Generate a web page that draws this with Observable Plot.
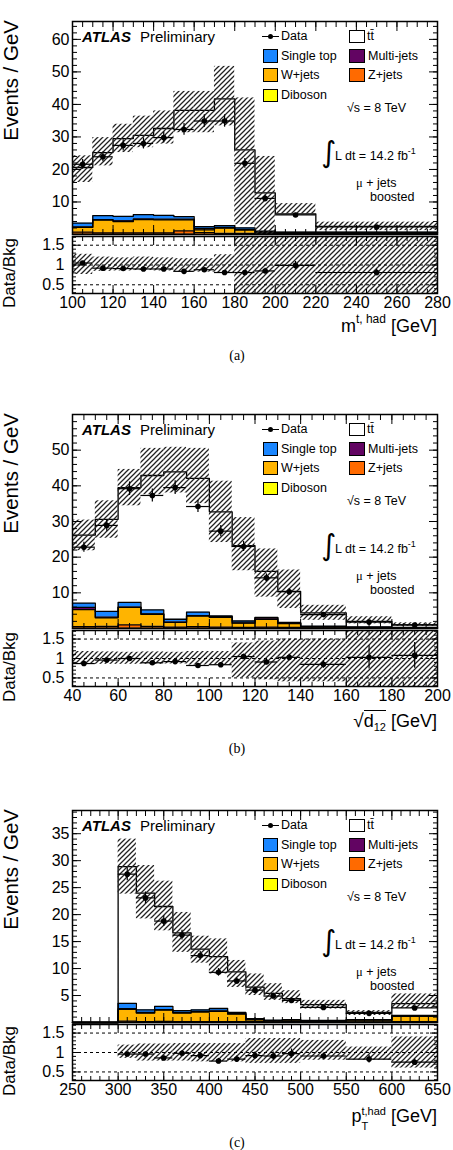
<!DOCTYPE html>
<html>
<head>
<meta charset="utf-8">
<script src="https://cdn.jsdelivr.net/npm/d3@7"></script>
<script src="https://cdn.jsdelivr.net/npm/@observablehq/plot@0.6"></script>
<style>
  html, body { margin: 0; padding: 0; background: #fff; }
  #page { position: relative; width: 453px; height: 1150px; overflow: hidden; background: #fff;
          font-family: "Liberation Sans", Arial, Helvetica, sans-serif; color: #000; }
  .abs { position: absolute; white-space: nowrap; line-height: 1; }
  .plot { position: absolute; left: 0; }
  .swatch { position: absolute; box-sizing: border-box; border: 1px solid #000; }
  .sup { font-size: 12px; line-height: 0; vertical-align: 9px; }
</style>
</head>
<body>
<div id="page"></div>
<svg width="0" height="0" style="position:absolute">
  <defs>
    <pattern id="hatch" patternUnits="userSpaceOnUse" width="5" height="5">
      <path d="M-1,1 L1,-1 M0,5 L5,0 M4,6 L6,4" stroke="#222" stroke-width="1.25"/>
    </pattern>
  </defs>
</svg>
<script>
// ---------- (a) hadronic top mass ----------
const mtopEdges      = [100,110,120,130,140,150,160,170,180,190,200,220,280];
const mtopTtbar      = [17.1,19.4,23.9,24.4,26.7,32.7,35.75,38.95,23.95,11.8,5.6,1.8];
const mtopSingleTop  = [1.2,1.2,1.4,1.3,1.2,0.8,0.6,0.6,0.5,0.15,0.05,0.05];
const mtopMultijet   = [0.1,0.2,0.2,0.2,0.2,0.2,0.4,0.2,0.2,0.3,0.1,0.1];
const mtopWjets      = [1.5,3.9,3.5,4.1,4.0,3.4,0.9,1.6,1.0,0.3,0.3,0.3];
const mtopZjets      = [0.6,0.4,0.4,0.4,0.4,1.0,0.5,0.3,0.3,0.2,0.2,0.2];
const mtopDiboson    = [0.1,0.1,0.1,0.1,0.1,0.1,0.05,0.05,0.05,0.05,0.05,0.05];
const mtopData       = [21.6,23.9,27.4,28.0,29.8,32.3,34.9,34.9,21.9,11.1,6.0,2.3];
const mtopDataErr    = [1.5,1.5,1.7,1.7,1.7,1.8,1.9,1.9,1.5,1.0,0.5,0.2];
const mtopBandLo     = [16.0,21.1,25.2,26.7,27.8,31.3,31.3,33.4,3.0,0.0,6.2,1.2];
const mtopBandHi     = [24.2,29.8,33.9,36.4,38.0,44.0,44.0,51.7,42.0,24.0,9.5,3.8];
const mtopRatio      = [1.05,0.92,0.91,0.90,0.90,0.84,0.88,0.81,0.81,0.85,0.99,0.81];
const mtopRatioErr   = [0.04,0.04,0.04,0.04,0.04,0.04,0.04,0.04,0.05,0.07,0.10,0.08];
const mtopRatioLo    = [0.76,0.84,0.85,0.86,0.85,0.82,0.82,0.80,0.0,0.0,0.0,0.0];
const mtopRatioHi    = [1.27,1.20,1.18,1.20,1.18,1.16,1.16,1.26,2.0,2.0,2.0,2.0];
const mtopTicks      = [100,120,140,160,180,200,220,240,260,280];
const mtopYTicks     = [10,20,30,40,50,60];

// ---------- (b) sqrt(d12) ----------
const d12Edges       = [40,50,60,70,80,90,100,110,120,130,140,160,180,200];
const d12Ttbar       = [19.1,25.8,32.2,37.7,41.3,37.5,29.2,21.1,12.9,8.7,3.75,1.6,0.7];
const d12SingleTop   = [1.2,1.6,1.3,1.1,0.8,1.0,0.2,0.5,0.1,0.2,0.1,0.05,0.05];
const d12Multijet    = [0.6,0.2,0.1,0.1,0.1,0.1,0.2,0.1,0.4,0.1,0.1,0.05,0.05];
const d12Wjets       = [4.8,2.4,4.9,3.4,1.3,3.0,2.7,1.2,2.2,1.1,0.3,0.15,0.1];
const d12Zjets       = [0.4,0.5,0.9,0.5,0.3,0.4,0.3,0.2,0.3,0.2,0.1,0.1,0.05];
const d12Diboson     = [0.1,0.1,0.1,0.1,0.1,0.1,0.1,0.1,0.1,0.1,0.05,0.05,0.05];
const d12Data        = [22.8,28.9,39.2,37.3,39.5,34.2,27.3,23.0,14.2,10.3,3.9,1.8,1.0];
const d12DataErr     = [1.4,1.6,1.9,1.8,1.9,1.7,1.6,1.4,1.1,0.9,0.4,0.3,0.25];
const d12BandLo      = [21.8,25.3,34.4,37.5,38.0,35.0,24.1,16.2,8.8,5.6,2.3,1.3,0.6];
const d12BandHi      = [30.4,35.8,44.6,50.5,50.8,50.5,41.3,31.1,22.3,16.4,6.5,3.3,1.6];
const d12Ratio       = [0.87,0.96,1.00,0.89,0.92,0.82,0.84,1.05,0.91,1.03,0.85,1.03,1.08];
const d12RatioErr    = [0.04,0.04,0.04,0.04,0.04,0.04,0.05,0.06,0.07,0.08,0.10,0.30,0.33];
const d12RatioLo     = [0.85,0.85,0.85,0.85,0.86,0.83,0.82,0.50,0.45,0.40,0.40,0.0,0.0];
const d12RatioHi     = [1.18,1.17,1.16,1.17,1.16,1.18,1.18,1.40,1.45,1.50,1.50,2.0,2.0];
const d12Ticks       = [40,60,80,100,120,140,160,180,200];
const d12YTicks      = [10,20,30,40,50];

// ---------- (c) hadronic top pT ----------
const ptEdges        = [250,300,320,340,360,380,400,420,440,460,480,500,550,600,650];
const ptTtbar        = [0,25.35,21.65,18.5,14.4,11.25,9.6,7.55,5.85,4.97,3.85,2.93,1.3,2.2];
const ptSingleTop    = [0,1.0,0.5,0.6,0.35,0.3,0.45,0.2,0.1,0.08,0.05,0.07,0.05,0.1];
const ptMultijet     = [0,0.1,0.1,0.1,0.1,0.1,0.1,0.1,0.1,0.05,0.05,0.05,0.05,0.05];
const ptWjets        = [0,2.2,1.6,2.1,1.6,1.8,1.9,1.4,0.35,0.2,0.3,0.15,0.35,1.0];
const ptZjets        = [0,0.2,0.1,0.15,0.1,0.1,0.1,0.1,0.1,0.05,0.1,0.05,0.05,0.1];
const ptDiboson      = [0,0.05,0.05,0.05,0.05,0.05,0.05,0.05,0.05,0.05,0.05,0.05,0.05,0.05];
const ptData         = [null,27.5,23.1,18.8,16.2,12.4,9.3,7.7,6.0,4.9,4.1,2.8,1.7,2.7];
const ptDataErr      = [null,1.2,1.1,1.0,0.9,0.8,0.7,0.6,0.55,0.5,0.45,0.25,0.2,0.25];
const ptBandLo       = [null,23.8,19.2,17.0,13.0,11.0,9.0,6.5,5.0,4.1,3.5,2.5,1.3,2.6];
const ptBandHi       = [null,34.0,29.1,26.2,20.4,16.0,15.5,11.5,9.0,7.2,5.9,4.1,2.2,5.3];
const ptRatio        = [null,0.96,0.96,0.86,0.98,0.92,0.78,0.83,0.92,0.91,0.97,0.91,0.83,0.75];
const ptRatioErr     = [null,0.04,0.05,0.05,0.06,0.06,0.07,0.08,0.09,0.10,0.12,0.08,0.10,0.08];
const ptRatioLo      = [null,0.85,0.78,0.78,0.78,0.76,0.76,0.76,0.72,0.72,0.72,0.80,0.80,0.60];
const ptRatioHi      = [null,1.19,1.22,1.22,1.23,1.23,1.23,1.23,1.36,1.36,1.36,1.31,1.14,1.40];
const ptTicks        = [250,300,350,400,450,500,550,600,650];
const ptYTicks       = [5,10,15,20,25,30,35];

// ratio panel
const ratioTicks  = [0.5, 1, 1.5];
const ratioGuides = [0.5, 1, 1.5];

// processes, stacked bottom-up
const PROCS = ["Diboson", "Z+jets", "W+jets", "Multi-jets", "Single top", "ttbar"];
const FILLS = ["#ffff00", "#ff6a00", "#ffb400", "#620462", "#1a86ff", "#ffffff"];

const W = 453, ML = 72, MR = 16;
const FONT = "'Liberation Sans', Arial, Helvetica, sans-serif";
const page = document.getElementById("page");

const panels = [
  {
    top: 21, mainH: 213, ratioTop: 236, ratioH: 57,
    xDomain: [100, 280], yDomain: [0, 65.5],
    edges: mtopEdges,
    layers: [mtopDiboson, mtopZjets, mtopWjets, mtopMultijet, mtopSingleTop, mtopTtbar],
    data: mtopData, dataErr: mtopDataErr, bandLo: mtopBandLo, bandHi: mtopBandHi,
    ratio: mtopRatio, ratioErr: mtopRatioErr, ratioLo: mtopRatioLo, ratioHi: mtopRatioHi,
    xTicks: mtopTicks, xMinor: d3.range(100, 281, 5),
    yTicks: mtopYTicks, yMinor: d3.range(0, 66, 2),
    title: 'm<span class="sup">t, had</span> [GeV]',
    caption: "(a)"
  },
  {
    top: 414, mainH: 214, ratioTop: 630, ratioH: 56,
    xDomain: [40, 200], yDomain: [0, 60],
    edges: d12Edges,
    layers: [d12Diboson, d12Zjets, d12Wjets, d12Multijet, d12SingleTop, d12Ttbar],
    data: d12Data, dataErr: d12DataErr, bandLo: d12BandLo, bandHi: d12BandHi,
    ratio: d12Ratio, ratioErr: d12RatioErr, ratioLo: d12RatioLo, ratioHi: d12RatioHi,
    xTicks: d12Ticks, xMinor: d3.range(40, 201, 5),
    yTicks: d12YTicks, yMinor: d3.range(0, 60, 2),
    title: '<span style="font-size:19px">√</span><span style="display:inline-block;border-top:1.3px solid #000;line-height:1;padding-top:1px">d<span style="font-size:11px;line-height:0;vertical-align:-4px">12</span></span> [GeV]',
    caption: "(b)"
  },
  {
    top: 810, mainH: 212, ratioTop: 1024, ratioH: 56,
    xDomain: [250, 650], yDomain: [0, 39.3],
    edges: ptEdges,
    layers: [ptDiboson, ptZjets, ptWjets, ptMultijet, ptSingleTop, ptTtbar],
    data: ptData, dataErr: ptDataErr, bandLo: ptBandLo, bandHi: ptBandHi,
    ratio: ptRatio, ratioErr: ptRatioErr, ratioLo: ptRatioLo, ratioHi: ptRatioHi,
    xTicks: ptTicks, xMinor: d3.range(250, 651, 10),
    yTicks: ptYTicks, yMinor: d3.range(0, 40, 1),
    title: 'p<span style="display:inline-block;font-size:11px;line-height:15px;vertical-align:-8px;text-align:left">t,had<br>T</span> [GeV]',
    caption: "(c)"
  }
];

// one row per bin edge and process, plus the closing edge, for step-shaped stacks
function stackRows(edges, layers) {
  const rows = [];
  layers.forEach((values, k) => {
    const proc = PROCS[k];
    values.forEach((v, i) => rows.push({proc, x: edges[i], v}));
    rows.push({proc, x: edges[edges.length - 1], v: values[values.length - 1]});
  });
  return rows;
}

function binRows(edges, v, e, lo, hi) {
  return edges.slice(0, -1).map((x1, i) => ({
    x1, x2: edges[i + 1], xc: (x1 + edges[i + 1]) / 2,
    v: v[i], e: e[i], lo: lo[i], hi: hi[i]
  })).filter(d => d.v != null);
}

const blank = () => "";
function frameTicks(xMajor, xMinor, yMajor, yMinor, major, minor) {
  const o = {tickFormat: blank, label: null};
  return [
    Plot.axisX(xMajor, {...o, anchor: "bottom", tickSize: -major}),
    Plot.axisX(xMajor, {...o, anchor: "top", tickSize: -major}),
    Plot.axisX(xMinor, {...o, anchor: "bottom", tickSize: -minor}),
    Plot.axisX(xMinor, {...o, anchor: "top", tickSize: -minor}),
    Plot.axisY(yMajor, {...o, anchor: "left", tickSize: -major}),
    Plot.axisY(yMajor, {...o, anchor: "right", tickSize: -major}),
    Plot.axisY(yMinor, {...o, anchor: "left", tickSize: -minor}),
    Plot.axisY(yMinor, {...o, anchor: "right", tickSize: -minor})
  ];
}

function dataMarks(rows) {
  return [
    Plot.ruleY(rows, {x1: "x1", x2: "x2", y: "v", stroke: "#000", strokeWidth: 1.2}),
    Plot.ruleX(rows, {x: "xc", y1: d => d.v - d.e, y2: d => d.v + d.e, stroke: "#000", strokeWidth: 1.2}),
    Plot.dot(rows, {x: "xc", y: "v", r: 2.8, fill: "#000", stroke: null})
  ];
}

function place(el, top) {
  el.style.top = top + "px";
  page.appendChild(el);
  return el;
}

function text(html, x, cy, size, opts = {}) {
  const el = document.createElement("div");
  el.className = "abs";
  el.innerHTML = html;
  el.style.fontSize = size + "px";
  if (opts.family) el.style.fontFamily = opts.family;
  if (opts.weight) el.style.fontWeight = opts.weight;
  if (opts.italic) el.style.fontStyle = "italic";
  if (opts.align === "right") el.style.right = (W - x) + "px";
  else if (opts.align === "center") { el.style.left = (x - 60) + "px"; el.style.width = "120px"; el.style.textAlign = "center"; }
  else el.style.left = x + "px";
  const top = opts.baseline != null ? opts.baseline - 0.85 * size : cy - 0.49 * size;
  return place(el, top);
}

function rotated(label, frameTop, size, boxLen) {
  const el = document.createElement("div");
  el.className = "abs";
  el.textContent = label;
  Object.assign(el.style, {
    fontSize: size + "px", left: "1px", width: boxLen + "px", textAlign: "right",
    transformOrigin: "0 0", transform: "rotate(-90deg)"
  });
  return place(el, frameTop + boxLen);
}

function swatch(x, cy, fill, border) {
  const el = document.createElement("div");
  el.className = "swatch";
  Object.assign(el.style, {left: x + "px", width: "15.6px", height: "13.4px", background: fill});
  if (border) el.style.borderWidth = border + "px";
  return place(el, cy - 6.7);
}

function legend(p) {
  const x0 = ML, y0 = p.top;
  const rows = [15.5, 35, 54, 74.5];
  // experiment label
  text("ATLAS", x0 + 10, y0 + 15.5, 15, {weight: "bold", italic: true});
  text("Preliminary", x0 + 68, y0 + 15.5, 15);
  // data entry: marker with horizontal bar
  const bar = document.createElement("div");
  Object.assign(bar.style, {position: "absolute", left: (x0 + 190) + "px", width: "17px", height: "1.3px", background: "#000"});
  place(bar, y0 + rows[0] - 0.6);
  const dot = document.createElement("div");
  Object.assign(dot.style, {position: "absolute", left: (x0 + 195.9) + "px", width: "5.4px", height: "5.4px", borderRadius: "50%", background: "#000"});
  place(dot, y0 + rows[0] - 2.7);
  text("Data", x0 + 209, y0 + rows[0], 12.5);
  // process entries
  swatch(x0 + 277.3, y0 + rows[0], "#ffffff", 1.5);
  text("tt\u0304", x0 + 295, y0 + rows[0], 12.5);
  swatch(x0 + 190.7, y0 + rows[1], FILLS[4]);
  text("Single top", x0 + 209, y0 + rows[1], 12.5);
  swatch(x0 + 277.3, y0 + rows[1], FILLS[3]);
  text("Multi-jets", x0 + 296, y0 + rows[1], 12.5);
  swatch(x0 + 190.7, y0 + rows[2], FILLS[2]);
  text("W+jets", x0 + 209, y0 + rows[2], 12.5);
  swatch(x0 + 277.3, y0 + rows[2], FILLS[1]);
  text("Z+jets", x0 + 296, y0 + rows[2], 12.5);
  swatch(x0 + 190.7, y0 + rows[3], FILLS[0]);
  text("Diboson", x0 + 209, y0 + rows[3], 12.5);
  // run conditions
  text("√s = 8 TeV", x0 + 275, y0 + 87, 12.5);
  text("∫", x0 + 249, y0 + 131, 29, {family: "'DejaVu Sans', sans-serif"});
  text('L dt = 14.2 fb<span style="font-size:9px;vertical-align:6px;line-height:0">-1</span>', x0 + 263, null, 12.5, {baseline: y0 + 140});
  text('<span style="font-family:\'Liberation Serif\',serif">μ</span> + jets', x0 + 284, y0 + 162.5, 12.5);
  text("boosted", x0 + 298, y0 + 176, 12.5);
}

const plotStyle = {fontFamily: FONT, fontSize: "16px", background: "transparent", overflow: "visible", color: "#000"};

panels.forEach(p => {
  const stack = stackRows(p.edges, p.layers);
  const main = binRows(p.edges, p.data, p.dataErr, p.bandLo, p.bandHi);
  const ratio = binRows(p.edges, p.ratio, p.ratioErr, p.ratioLo, p.ratioHi);

  const mainSvg = Plot.plot({
    width: W, height: p.mainH + 2,
    marginLeft: ML, marginRight: MR, marginTop: 1, marginBottom: 1,
    x: {domain: p.xDomain},
    y: {domain: p.yDomain},
    color: {domain: PROCS, range: FILLS},
    style: plotStyle,
    marks: [
      Plot.areaY(stack, {x: "x", y: "v", z: "proc", fill: "proc", curve: "step-after", order: PROCS}),
      Plot.lineY(stack, Plot.stackY2({x: "x", y: "v", z: "proc", order: PROCS, curve: "step-after", stroke: "#000", strokeWidth: 1.3})),
      Plot.rect(main, {x1: "x1", x2: "x2", y1: "lo", y2: "hi", fill: "url(#hatch)", clip: true}),
      ...dataMarks(main),
      ...frameTicks(p.xTicks, p.xMinor, p.yTicks, p.yMinor, 9, 5),
      Plot.axisY(p.yTicks, {anchor: "left", tickSize: 0, tickPadding: 3, tickFormat: d => String(d), label: null, fontSize: 16}),
      Plot.frame({stroke: "#000", strokeWidth: 1.5})
    ]
  });
  mainSvg.classList.add("plot");
  place(mainSvg, p.top - 1);

  const ratioSvg = Plot.plot({
    width: W, height: p.ratioH + 1 + 26,
    marginLeft: ML, marginRight: MR, marginTop: 1, marginBottom: 26,
    x: {domain: p.xDomain},
    y: {domain: [0.28, 1.72]},
    style: plotStyle,
    marks: [
      Plot.rect(ratio, {x1: "x1", x2: "x2", y1: "lo", y2: "hi", fill: "url(#hatch)", clip: true}),
      Plot.ruleY(ratioGuides, {stroke: "#000", strokeWidth: 1, strokeDasharray: "3,3"}),
      ...dataMarks(ratio),
      ...frameTicks(p.xTicks, p.xMinor, ratioTicks, d3.range(0.3, 1.75, 0.1), 8, 4),
      Plot.axisY(ratioTicks, {anchor: "left", tickSize: 0, tickPadding: 8, tickFormat: d => String(d), label: null, fontSize: 16}),
      Plot.axisX(p.xTicks, {anchor: "bottom", tickSize: 0, tickPadding: 3, tickFormat: d => String(d), label: null, fontSize: 16}),
      Plot.frame({stroke: "#000", strokeWidth: 1.5})
    ]
  });
  ratioSvg.classList.add("plot");
  place(ratioSvg, p.ratioTop - 1);

  const ratioBottom = p.ratioTop + p.ratioH;
  rotated("Events / GeV", p.top - 1, 20.5, 200);
  rotated("Data/Bkg", p.ratioTop + 2, 17, 120);
  text(p.title, 437, null, 18, {align: "right", baseline: ratioBottom + 39});
  text(p.caption, 237, ratioBottom + 63, 14, {align: "center", family: "'Liberation Serif', 'Times New Roman', serif"});
  legend(p);
});
</script>
</body>
</html>
